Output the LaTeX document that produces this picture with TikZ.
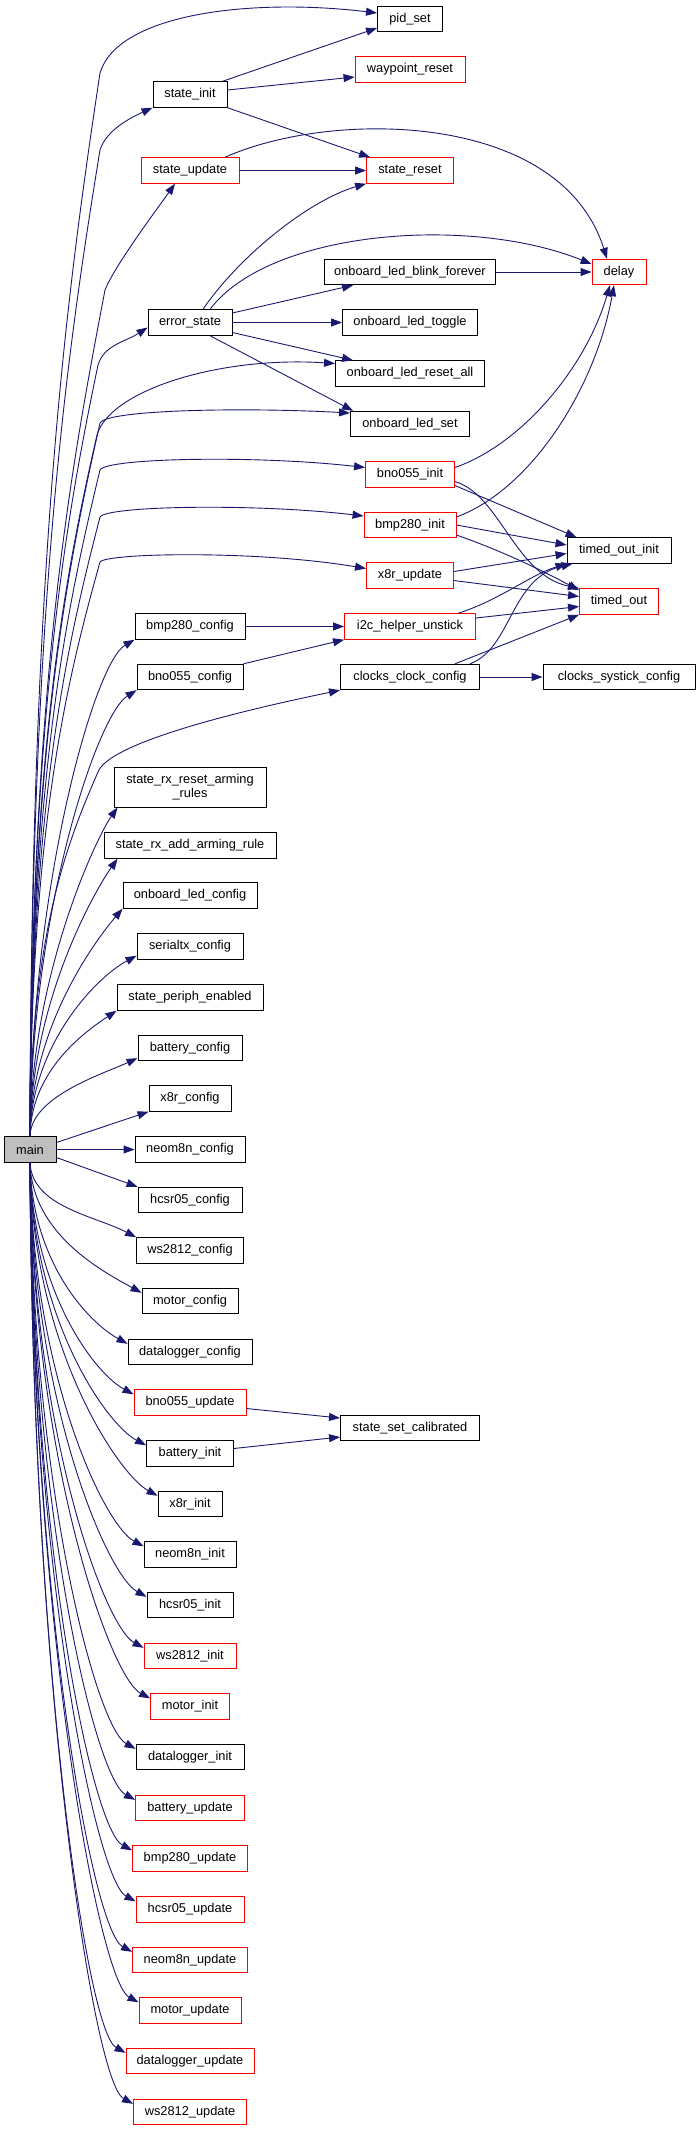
\documentclass[tikz,border=0pt]{standalone}
\usepackage{fontspec}
\setmainfont{Liberation Sans}
\usetikzlibrary{arrows.meta}
\definecolor{edgeBlue}{RGB}{25, 25, 112}
\definecolor{boxRed}{RGB}{255, 0, 0}
\definecolor{mainGrey}{RGB}{191, 191, 191}
\newcommand{\fnfont}{\fontsize{12.8pt}{13.7pt}\selectfont}

\begin{document}
\begin{tikzpicture}[x=1pt, y=-1pt,
  fn/.style={rectangle, draw=black, line width=0.9pt, minimum height=25.5pt,
    inner sep=0pt, align=center, font=\fnfont},
  fnred/.style={fn, draw=boxRed},
  fnmain/.style={fn, fill=mainGrey},
  call/.style={-{Triangle[length=11pt, width=8pt]}, draw=edgeBlue, line width=0.9pt},
]
\useasboundingbox (0,0) rectangle (697,2131);

% caller
\node[fnmain, minimum width=52pt] (main) at (30,1149.5) {main};

% first column
\node[fn, minimum width=74pt]     (stateinit)   at (190,94.5)   {state\_init};
\node[fnred, minimum width=98pt]  (stateupdate) at (190,170.5)  {state\_update};
\node[fn, minimum width=84pt]     (errorstate)  at (190,322.5)  {error\_state};
\node[fn, minimum width=110pt]    (bmpconfig)   at (190,626.5)  {bmp280\_config};
\node[fn, minimum width=106pt]    (bnoconfig)   at (190,677)    {bno055\_config};
\node[fn, minimum width=152pt, minimum height=40pt]
                                  (rxreset)     at (190,787)    {state\_rx\_reset\_arming\\\_rules};
\node[fn, minimum width=172pt]    (rxadd)       at (190,845.5)  {state\_rx\_add\_arming\_rule};
\node[fn, minimum width=134pt]    (ledconfig)   at (190,895.5)  {onboard\_led\_config};
\node[fn, minimum width=106pt]    (serialtx)    at (190,946.5)  {serialtx\_config};
\node[fn, minimum width=146pt]    (periph)      at (190,997.5)  {state\_periph\_enabled};
\node[fn, minimum width=104pt]    (batconfig)   at (190,1048)   {battery\_config};
\node[fn, minimum width=82pt]     (xconfig)     at (190,1098.5) {x8r\_config};
\node[fn, minimum width=110pt]    (neoconfig)   at (190,1149.5) {neom8n\_config};
\node[fn, minimum width=104pt]    (hcsconfig)   at (190,1200)   {hcsr05\_config};
\node[fn, minimum width=107pt]    (wsconfig)    at (190,1250.5) {ws2812\_config};
\node[fn, minimum width=96pt]     (motconfig)   at (190,1301)   {motor\_config};
\node[fn, minimum width=124pt]    (logconfig)   at (190,1352)   {datalogger\_config};
\node[fnred, minimum width=112pt] (bnoupdate)   at (190,1402.5) {bno055\_update};
\node[fn, minimum width=87pt]     (batinit)     at (190,1453.5) {battery\_init};
\node[fn, minimum width=64pt]     (xinit)       at (190,1504)   {x8r\_init};
\node[fn, minimum width=92pt]     (neoinit)     at (190,1554.5) {neom8n\_init};
\node[fn, minimum width=86pt]     (hcsinit)     at (190,1605)   {hcsr05\_init};
\node[fnred, minimum width=92pt]  (wsinit)      at (190,1656)   {ws2812\_init};
\node[fnred, minimum width=79pt]  (motinit)     at (190,1706.5) {motor\_init};
\node[fn, minimum width=108pt]    (loginit)     at (190,1757)   {datalogger\_init};
\node[fnred, minimum width=109pt] (batupdate)   at (190,1808)   {battery\_update};
\node[fnred, minimum width=115pt] (bmpupdate)   at (190,1858.5) {bmp280\_update};
\node[fnred, minimum width=108pt] (hcsupdate)   at (190,1909.5) {hcsr05\_update};
\node[fnred, minimum width=115pt] (neoupdate)   at (190,1960)   {neom8n\_update};
\node[fnred, minimum width=102pt] (motupdate)   at (190,2010.5) {motor\_update};
\node[fnred, minimum width=128pt] (logupdate)   at (190,2061)   {datalogger\_update};
\node[fnred, minimum width=113pt] (wsupdate)    at (190,2112)   {ws2812\_update};

% second column
\node[fn, minimum width=65pt]     (pidset)      at (410,19)     {pid\_set};
\node[fnred, minimum width=110pt] (waypoint)    at (410,69.5)   {waypoint\_reset};
\node[fnred, minimum width=87pt]  (statereset)  at (410,170.5)  {state\_reset};
\node[fn, minimum width=171pt]    (ledblink)    at (410,272)    {onboard\_led\_blink\_forever};
\node[fn, minimum width=135pt]    (ledtoggle)   at (410,322.5)  {onboard\_led\_toggle};
\node[fn, minimum width=149pt]    (ledresetall) at (410,373.5)  {onboard\_led\_reset\_all};
\node[fn, minimum width=119pt]    (ledset)      at (410,424)    {onboard\_led\_set};
\node[fnred, minimum width=89pt]  (bnoinit)     at (410,474.5)  {bno055\_init};
\node[fnred, minimum width=92pt]  (bmpinit)     at (410,525)    {bmp280\_init};
\node[fnred, minimum width=87pt]  (xupdate)     at (410,575.5)  {x8r\_update};
\node[fnred, minimum width=131pt] (i2c)         at (410,626.5)  {i2c\_helper\_unstick};
\node[fn, minimum width=139pt]    (clockcfg)    at (410,677)    {clocks\_clock\_config};
\node[fn, minimum width=139pt]    (calibrated)  at (410,1428)   {state\_set\_calibrated};

% third column
\node[fnred, minimum width=54pt]  (delay)       at (619,272)    {delay};
\node[fn, minimum width=104pt]    (toinit)      at (619,550.5)  {timed\_out\_init};
\node[fnred, minimum width=79pt]  (timedout)    at (619,601.5)  {timed\_out};
\node[fn, minimum width=152pt]    (systick)     at (619,677)    {clocks\_systick\_config};

% main, going up
\draw[call] (main.north) .. controls (31,552) and (68,286) .. (100,73)
  .. controls (118,13) and (253,-2) .. ([yshift=6pt]pidset.west);
\draw[call] (main.north) .. controls (31,594) and (68,347) .. (100,150)
  .. controls (106,130) and (132,117) .. (stateinit.south west);
\draw[call] (main.north) .. controls (31,671) and (73,459) .. (105,290)
  .. controls (115,265) and (160,205) .. ([xshift=-15pt]stateupdate.south);
\draw[call] (main.north) .. controls (31,712) and (66,519) .. (98,365)
  .. controls (104,345) and (125,342) .. ([yshift=-5pt]errorstate.west);
\draw[call] (main.north) .. controls (31,751) and (65,575) .. (97,435)
  .. controls (110,390) and (220,356) .. ([yshift=10pt]ledresetall.west);
\draw[call] (main.north) .. controls (31,744) and (68,566) .. (100,423)
  .. controls (106,410) and (240,407) .. ([yshift=11pt]ledset.west);
\draw[call] (main.north) .. controls (31,770) and (68,603) .. (100,470)
  .. controls (106,458) and (255,455) .. ([yshift=7pt]bnoinit.west);
\draw[call] (main.north) .. controls (31,796) and (68,641) .. (100,517)
  .. controls (106,506) and (253,503) .. ([yshift=9pt]bmpinit.west);
\draw[call] (main.north) .. controls (31,821) and (68,677) .. (100,562)
  .. controls (106,553) and (256,550) .. ([yshift=7pt]xupdate.west);
\draw[call] (main.north) .. controls (31,936) and (66,845) .. (98,772)
  .. controls (108,745) and (220,715) .. (clockcfg.south west);
\draw[call] (main.north) .. controls (31,888) and (94,663) .. (bmpconfig.south west);
\draw[call] (main.north) .. controls (31,913) and (97,715) .. (bnoconfig.south west);
\draw[call] (main.north) .. controls (31,972) and (98,835) .. ([xshift=4pt]rxreset.south west);
\draw[call] (main.north) .. controls (31,998) and (98,886) .. ([xshift=14pt]rxadd.south west);
\draw[call] (main.north) .. controls (31,1023) and (100,935) .. (ledconfig.south west);
\draw[call] (main.north) .. controls (31,1046) and (95,978) .. ([yshift=4pt]serialtx.south west);
\draw[call] (main.north) .. controls (31,1073) and (80,1035) .. (periph.south west);
\draw[call] (main.north) .. controls (31,1097) and (100,1075) .. ([yshift=3pt]batconfig.south west);
\draw[call] ([yshift=7pt]main.east) -- (xconfig.south west);
\draw[call] (main.east) -- (neoconfig.west);
\draw[call] ([yshift=-8pt]main.east) -- (hcsconfig.north west);

% main, going down
\draw[call] (main.south) .. controls (32,1207) and (96,1216) .. (wsconfig.north west);
\draw[call] (main.south) .. controls (32,1234) and (102,1271) .. ([yshift=-5pt]motconfig.north west);
\draw[call] (main.south) .. controls (32,1262) and (88,1322) .. ([yshift=-5pt]logconfig.north west);
\draw[call] (main.south) .. controls (32,1290) and (94,1373) .. ([yshift=-5pt]bnoupdate.north west);
\draw[call] (main.south) .. controls (32,1318) and (106,1424) .. ([yshift=-5pt]batinit.north west);
\draw[call] (main.south) .. controls (32,1346) and (118,1474) .. ([yshift=-5pt]xinit.north west);
\draw[call] (main.south) .. controls (32,1374) and (104,1525) .. ([yshift=-5pt]neoinit.north west);
\draw[call] (main.south) .. controls (32,1401) and (107,1575) .. ([yshift=-5pt]hcsinit.north west);
\draw[call] (main.south) .. controls (32,1429) and (104,1626) .. ([yshift=-5pt]wsinit.north west);
\draw[call] (main.south) .. controls (32,1457) and (110,1677) .. ([yshift=-5pt]motinit.north west);
\draw[call] (main.south) .. controls (32,1485) and (96,1727) .. ([yshift=-5pt]loginit.north west);
\draw[call] (main.south) .. controls (32,1513) and (95,1778) .. ([yshift=-5pt]batupdate.north west);
\draw[call] (main.south) .. controls (32,1541) and (92,1829) .. ([yshift=-5pt]bmpupdate.north west);
\draw[call] (main.south) .. controls (32,1569) and (96,1880) .. ([yshift=-5pt]hcsupdate.north west);
\draw[call] (main.south) .. controls (32,1597) and (92,1930) .. ([yshift=-5pt]neoupdate.north west);
\draw[call] (main.south) .. controls (32,1625) and (99,1981) .. ([yshift=-5pt]motupdate.north west);
\draw[call] (main.south) .. controls (32,1652) and (86,2031) .. ([yshift=-5pt]logupdate.north west);
\draw[call] (main.south) .. controls (32,1680) and (93,2082) .. ([yshift=-5pt]wsupdate.north west);

% second level
\draw[call] ([xshift=-5pt]stateinit.north east) -- ([yshift=-9pt]pidset.west);
\draw[call] ([yshift=4.5pt]stateinit.east) -- ([yshift=-7.5pt]waypoint.west);
\draw[call] (stateinit.south east) -- ([xshift=4pt]statereset.north west);
\draw[call] (stateupdate.east) -- (statereset.west);
\draw[call] ([xshift=35pt]stateupdate.north) .. controls (330,110) and (560,110) .. ([xshift=-12pt]delay.north);
\draw[call] ([xshift=13pt]errorstate.north) .. controls (240,255) and (310,200) .. (statereset.south west);
\draw[call] ([xshift=20pt]errorstate.north) .. controls (270,230) and (470,215) .. ([yshift=8pt]delay.west);
\draw[call] ([yshift=9.5pt]errorstate.east) -- ([xshift=29pt]ledblink.south west);
\draw[call] (errorstate.east) -- (ledtoggle.west);
\draw[call] ([yshift=-10pt]errorstate.east) -- ([xshift=18pt]ledresetall.north west);
\draw[call] ([xshift=20pt]errorstate.south) -- ([xshift=3pt]ledset.north west);
\draw[call] (ledblink.east) -- (delay.west);
\draw[call] (bmpconfig.east) -- (i2c.west);
\draw[call] (bnoconfig.north east) -- (i2c.south west);
\draw[call] ([yshift=-6pt]bnoupdate.east) -- ([yshift=10pt]calibrated.west);
\draw[call] ([yshift=5pt]batinit.east) -- ([yshift=-9pt]calibrated.west);

% third level
\draw[call] ([yshift=7pt]bnoinit.east) .. controls (520,445) and (585,370) .. ([xshift=-9pt]delay.south);
\draw[call] ([yshift=-11pt]bnoinit.east) -- ([xshift=10pt]toinit.north west);
\draw[call] ([yshift=-7pt]bnoinit.east) .. controls (500,495) and (515,575) .. (timedout.north west);
\draw[call] ([yshift=8pt]bmpinit.east) .. controls (530,490) and (595,390) .. ([xshift=-5pt]delay.south);
\draw[call] (bmpinit.east) -- ([yshift=5.5pt]toinit.west);
\draw[call] ([yshift=-10pt]bmpinit.east) .. controls (505,552) and (545,572) .. ([yshift=-2pt]timedout.north west);
\draw[call] ([yshift=4pt]xupdate.east) -- ([yshift=-3pt]toinit.west);
\draw[call] ([yshift=-5pt]xupdate.east) -- ([yshift=5pt]timedout.west);
\draw[call] ([xshift=48pt]i2c.north) .. controls (500,600) and (530,575) .. (toinit.south west);
\draw[call] ([yshift=8.5pt]i2c.east) -- ([yshift=-5pt]timedout.west);
\draw[call] ([xshift=60pt]clockcfg.north) .. controls (512,648) and (510,578) .. ([xshift=6pt]toinit.south west);
\draw[call] ([xshift=45pt]clockcfg.north) -- (timedout.south west);
\draw[call] (clockcfg.east) -- (systick.west);
\end{tikzpicture}
\end{document}
